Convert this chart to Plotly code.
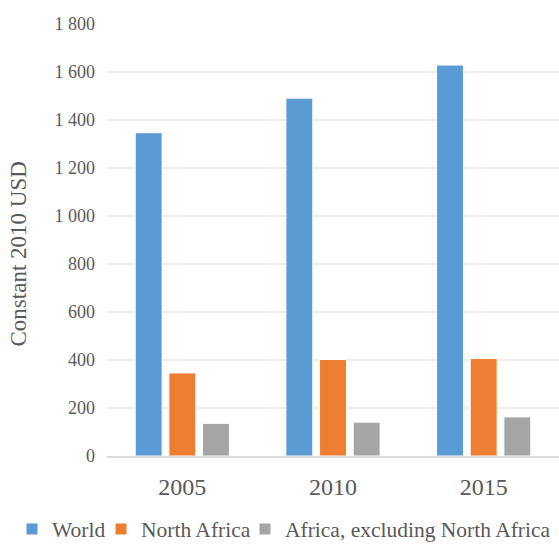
import plotly.graph_objects as go

years = ["2005", "2010", "2015"]
world = [1347, 1491, 1629]
north_africa = [346, 402, 406]
africa_excl = [136, 141, 163]
series_names = ["World", "North Africa", "Africa, excluding North Africa"]
colors = ["#5B9BD5", "#ED7D31", "#A5A5A5"]
y_ticks = [0, 200, 400, 600, 800, 1000, 1200, 1400, 1600, 1800]
y_tick_labels = ["0", "200", "400", "600", "800", "1 000", "1 200", "1 400", "1 600", "1 800"]
y_title = "Constant 2010 USD"

W, H = 559, 545
L, R, T, B = 107, 0, 24, 89
FF = "Liberation Serif, Times New Roman, serif"
TXT = "#595959"
legend_ids = ["legend2", "legend3", "legend4"]
legend_x_px = [12, 101, 245]

fig = go.Figure()
for name, vals, col, lid in zip(series_names, [world, north_africa, africa_excl], colors, legend_ids):
    fig.add_trace(go.Bar(x=years, y=vals, name=name, legend=lid,
                         marker=dict(color=col, line=dict(color="#FFFFFF", width=1))))

leg_common = dict(orientation="h", xref="container", yref="container", xanchor="left",
                  yanchor="middle", y=16 / H, bgcolor="rgba(0,0,0,0)",
                  font=dict(size=21.5, family=FF, color=TXT), itemwidth=30)
layout_legends = {}
for lid, xp in zip(legend_ids, legend_x_px):
    layout_legends[lid] = dict(leg_common, x=xp / W)

plot_w = W - L - R
plot_h = H - T - B
fig.add_annotation(text=y_title, textangle=-90, showarrow=False,
                   xref="paper", yref="paper",
                   x=(18 - L) / plot_w, y=(H - B - 254.5) / plot_h,
                   xanchor="center", yanchor="middle",
                   font=dict(size=23, family=FF, color=TXT))

fig.update_layout(
    width=W, height=H,
    margin=dict(l=L, r=R, t=T, b=B, autoexpand=False),
    paper_bgcolor="white", plot_bgcolor="white",
    barmode="group", bargap=0.33, bargroupgap=0.2,
    font=dict(family=FF, color=TXT),
    xaxis=dict(tickfont=dict(size=24, family=FF, color=TXT), showline=True, linecolor="#D9D9D9",
               linewidth=1.5, ticks="", showgrid=False, ticklabelstandoff=8),
    yaxis=dict(range=[0, 1800], tickvals=y_ticks, ticktext=y_tick_labels,
               tickfont=dict(size=18, family=FF, color=TXT), showgrid=True, gridcolor="#EDEDED",
               gridwidth=1.5, zeroline=False, showline=False, ticks="", ticklabelstandoff=11),
    **layout_legends,
)
fig.write_html("out.html", config={"displayModeBar": False},
               post_script="document.body.style.margin='0px';")
